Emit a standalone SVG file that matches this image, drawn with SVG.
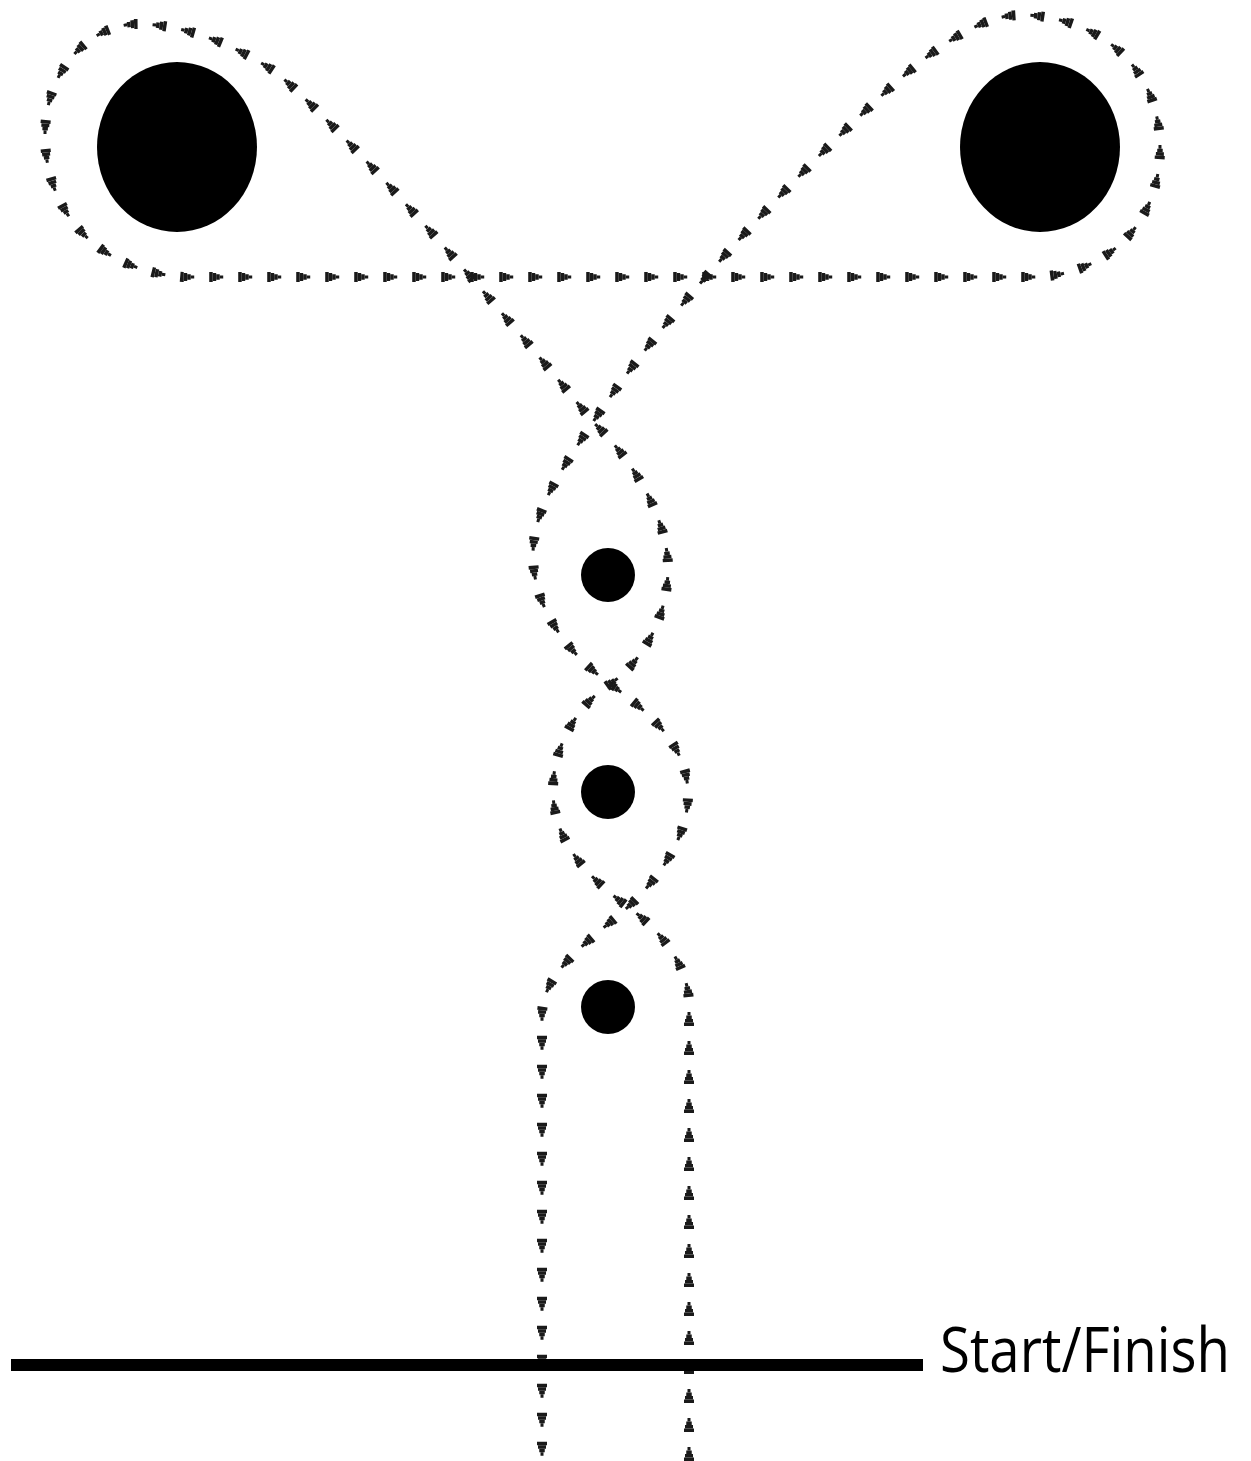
<svg xmlns="http://www.w3.org/2000/svg" xmlns:xlink="http://www.w3.org/1999/xlink" width="1251" height="1461" viewBox="0 0 1251 1461">
  <style>
    .post { fill: #000; }
    .dash { fill: none; stroke: #1a1a1a; stroke-linecap: butt; stroke-linejoin: round; stroke-dasharray: 3.5 25.5; }
    .d1 { stroke-width: 10; stroke-dashoffset: 0; }
    .d2 { stroke-width: 8; stroke-dashoffset: -3.5; }
    .d3 { stroke-width: 5.5; stroke-dashoffset: -7; }
    .d4 { stroke-width: 3; stroke-dashoffset: -10.5; }
    .label { font-family: "Open Sans", "Noto Sans", "Liberation Sans", sans-serif; font-size: 63px; fill: #000; }
  </style>
  <defs>
    <path id="route" d="M 689 1461 L 689 1005 C 689 965 660 930 628 907 C 585 875 553 840 553 790 C 553 745 578 705 610 684 C 640 664 668 620 668 568 C 668 520 635 462 593 422 C 520 332 360 145 277 73 C 240 48 190 25 140 24 C 90 23 45 70 45 135 C 45 210 95 270 183 277 L 1030 277 C 1105 277 1160 225 1160 148 C 1160 60 1090 15 1020 15 C 980 15 930 50 880 97 C 780 190 660 320 593 422 C 560 472 533 510 533 555 C 533 610 570 655 610 684 C 650 713 688 745 688 795 C 688 840 655 882 628 907 C 595 937 542 970 542 1015 L 542 1461"/>
  </defs>
  <rect width="1251" height="1461" fill="#fff"/>
  <g id="connectors">
    <use xlink:href="#route" href="#route" class="dash d1"/>
    <use xlink:href="#route" href="#route" class="dash d2"/>
    <use xlink:href="#route" href="#route" class="dash d3"/>
    <use xlink:href="#route" href="#route" class="dash d4"/>
  </g>
  <g id="post-left"><ellipse class="post" cx="177" cy="147" rx="80" ry="85"/></g>
  <g id="post-right"><ellipse class="post" cx="1040" cy="147" rx="80" ry="85"/></g>
  <g id="dot-1"><circle class="post" cx="608" cy="575" r="27"/></g>
  <g id="dot-2"><circle class="post" cx="608" cy="792" r="27"/></g>
  <g id="dot-3"><circle class="post" cx="608" cy="1007" r="27"/></g>
  <g id="start-finish">
    <line x1="11" y1="1365" x2="923" y2="1365" stroke="#000" stroke-width="12"/>
    <text class="label" x="940" y="1372" textLength="290" lengthAdjust="spacingAndGlyphs">Start/Finish</text>
  </g>
</svg>
